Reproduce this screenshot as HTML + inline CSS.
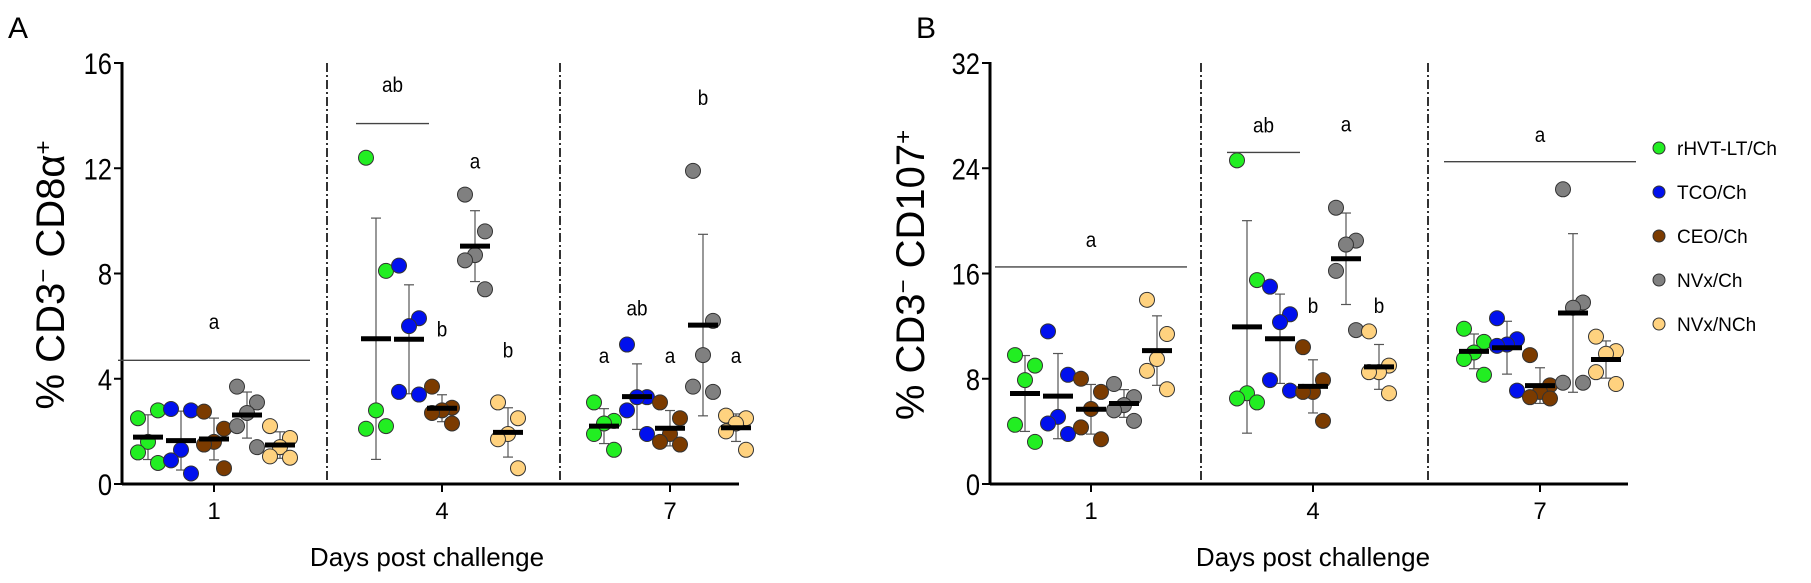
<!DOCTYPE html>
<html><head><meta charset="utf-8"><style>
html,body{margin:0;padding:0;background:#fff;width:1811px;height:583px;overflow:hidden}
svg text{font-family:"Liberation Sans",sans-serif}
</style></head><body>
<svg id="fig" width="1811" height="583" xmlns="http://www.w3.org/2000/svg"></svg>
<script>
const groups=["rHVT-LT/Ch","TCO/Ch","CEO/Ch","NVx/Ch","NVx/NCh"];
const days=["1","4","7"];
const yTicksA=[0,4,8,12,16];
const yTicksB=[0,8,16,24,32];
const dataA_day1=[[2.5,2.8,1.6,1.2,0.8],[2.85,2.8,1.3,0.9,0.4],[2.75,2.1,1.6,1.5,0.6],[3.7,3.1,2.7,2.2,1.4],[2.2,1.75,1.4,1.05,1.0]];
const dataA_day4=[[12.4,8.1,2.8,2.1,2.2],[8.3,6.3,6.0,3.5,3.4],[3.7,2.9,2.8,2.7,2.3],[11.0,9.6,8.7,8.5,7.4],[3.1,2.5,1.9,1.7,0.6]];
const dataA_day7=[[3.1,2.4,2.3,1.9,1.3],[5.3,3.3,3.3,2.8,1.9],[3.1,2.5,1.9,1.6,1.5],[11.9,6.2,4.9,3.7,3.5],[2.6,2.5,2.3,2.0,1.3]];
const dataB_day1=[[9.8,9.0,7.9,4.5,3.2],[11.6,8.3,5.1,4.6,3.8],[8.0,7.0,5.7,4.3,3.4],[7.6,6.6,6.0,5.6,4.8],[14.0,11.4,9.5,8.6,7.2]];
const dataB_day4=[[24.6,15.5,6.9,6.5,6.2],[15.0,12.9,12.3,7.9,7.1],[10.4,7.9,7.0,7.0,4.8],[21.0,18.5,18.2,16.2,11.7],[11.6,9.0,8.5,8.5,6.9]];
const dataB_day7=[[11.8,10.8,10.0,9.5,8.3],[12.6,11.0,10.6,10.5,7.1],[9.8,7.5,7.0,6.6,6.5],[22.4,13.8,13.4,7.7,7.7],[11.2,10.1,9.9,8.5,7.6]];
const lettersA=[[0,0,4,5.9,4.7,"a"],[1,0,1,14.9,13.7,"ab"],[1,3,3,12.0,null,"a"],[1,2,2,5.6,null,"b"],[1,4,4,4.8,null,"b"],[2,0,0,4.6,null,"a"],[2,1,1,6.4,null,"ab"],[2,2,2,4.6,null,"a"],[2,3,3,14.4,null,"b"],[2,4,4,4.6,null,"a"]];
const lettersB=[[0,0,4,18.0,16.5,"a"],[1,0,1,26.7,25.2,"ab"],[1,3,3,26.8,null,"a"],[1,2,2,13.0,null,"b"],[1,4,4,13.0,null,"b"],[2,0,4,26.0,24.5,"a"]];
const colors=["#22ee22","#0010ee","#7b3b00","#808080","#ffd27f"];
const jitter=[-10,10,0,-10,10];
const NS="http://www.w3.org/2000/svg";
const svg=document.getElementById("fig");
function el(tag,attrs,parent,text){const e=document.createElementNS(NS,tag);for(const k in attrs)e.setAttribute(k,attrs[k]);if(text!==undefined)e.textContent=text;(parent||svg).appendChild(e);return e;}
function mean(a){return a.reduce((s,v)=>s+v,0)/a.length;}
function sd(a){const m=mean(a);return Math.sqrt(a.reduce((s,v)=>s+(v-m)*(v-m),0)/(a.length-1));}

function panel(cfg){
  const g=el("g",{});
  
  
  const y=v=>cfg.y0-(v/cfg.ymax)*(cfg.y0-cfg.y1);
  const x=(d,gi)=>cfg.cats[d]+(gi-2)*33;
  const pl=el("text",{x:cfg.letterX,y:38,"font-size":30},g,cfg.letter);
  
  
  const ya=el("line",{x1:cfg.ax,y1:cfg.y1-1,x2:cfg.ax,y2:cfg.y0,stroke:"#000","stroke-width":3},g);
  
  
  const xa=el("line",{x1:cfg.ax,y1:cfg.y0,x2:cfg.right,y2:cfg.y0,stroke:"#000","stroke-width":3},g);
  
  
  cfg.ticks.forEach(t=>{
    el("line",{x1:cfg.ax-8,y1:y(t),x2:cfg.ax,y2:y(t),stroke:"#000","stroke-width":2},g);
    const tl=el("text",{x:0,y:0,"font-size":30,"text-anchor":"end",transform:`translate(${cfg.ax-10},${y(t)+11}) scale(0.85,1)`},g,String(t));
    
    
  });
  days.forEach((d,i)=>{
    el("line",{x1:cfg.cats[i],y1:cfg.y0,x2:cfg.cats[i],y2:cfg.y0+8,stroke:"#000","stroke-width":2},g);
    const tl=el("text",{x:cfg.cats[i],y:cfg.y0+35,"font-size":24,"text-anchor":"middle"},g,d);
    
    
  });
  cfg.dividers.forEach(dx=>{
    const dl=el("line",{x1:dx,y1:cfg.y1,x2:dx,y2:cfg.y0,stroke:"#000","stroke-width":1.6,"stroke-dasharray":"9,3,2,3"},g);
    
    
  });
  const xt=el("text",{x:cfg.xTitleX,y:566,"font-size":26,"text-anchor":"middle"},g,"Days post challenge");
  
  
  const yt=el("text",{x:0,y:0,"font-size":40,"text-anchor":"middle",transform:`translate(${cfg.yTitleX},${cfg.yTitleY}) rotate(-90)`},g);
  
  
  yt.innerHTML=cfg.yTitle;
  cfg.data.forEach((day,d)=>{
    day.forEach((pts,gi)=>{
      const cx=x(d,gi),m=mean(pts),s=sd(pts);
      const eb=el("g",{},g);
      
      
      el("line",{x1:cx,y1:y(Math.max(0,m-s)),x2:cx,y2:y(m+s),stroke:"#555","stroke-width":1.2},eb);
      el("line",{x1:cx-5,y1:y(m+s),x2:cx+5,y2:y(m+s),stroke:"#555","stroke-width":1.2},eb);
      el("line",{x1:cx-5,y1:y(Math.max(0,m-s)),x2:cx+5,y2:y(Math.max(0,m-s)),stroke:"#555","stroke-width":1.2},eb);
      pts.forEach((v,k)=>{
        const c=el("circle",{cx:cx+jitter[k],cy:y(v),r:7.5,fill:colors[gi],stroke:"#333","stroke-width":1},g);
        
        
      });
      const mb=el("line",{x1:cx-15,y1:y(m),x2:cx+15,y2:y(m),stroke:"#000","stroke-width":5},g);
      
      
    });
  });
  cfg.letters.forEach(L=>{
    const [d,g0,g1,ly,lineY,txt]=L;
    const xa0=x(d,g0),xa1=x(d,g1);
    if(lineY!==null){
      const ext=(g1-g0===4)?30:20;
      const sl=el("line",{x1:xa0-ext,y1:y(lineY),x2:xa1+ext,y2:y(lineY),stroke:"#444","stroke-width":1.4},g);
      
      
    }
    const st=el("text",{x:0,y:0,"font-size":21,"text-anchor":"middle",transform:`translate(${(xa0+xa1)/2},${y(ly)}) scale(0.9,1)`},g,txt);
    
    
  });
}
panel({name:"panel-a",letter:"A",letterX:8,ax:122,right:739,y0:484,y1:63,ymax:16,ticks:yTicksA,cats:[214,442,670],dividers:[327,560],
  data:[dataA_day1,dataA_day4,dataA_day7],letters:lettersA,xTitleX:427,yTitleX:64,yTitleY:275,
  yTitle:'% CD3<tspan baseline-shift="super" font-size="24">−</tspan> CD8α<tspan baseline-shift="super" font-size="24">+</tspan>'});
panel({name:"panel-b",letter:"B",letterX:916,ax:990,right:1628,y0:484,y1:63,ymax:32,ticks:yTicksB,cats:[1091,1313,1540],dividers:[1201,1428],
  data:[dataB_day1,dataB_day4,dataB_day7],letters:lettersB,xTitleX:1313,yTitleX:924,yTitleY:275,
  yTitle:'% CD3<tspan baseline-shift="super" font-size="24">−</tspan> CD107<tspan baseline-shift="super" font-size="24">+</tspan>'});
const lg=el("g",{});


groups.forEach((name,i)=>{
  const e=el("g",{},lg);
  
  
  el("circle",{cx:1659,cy:148+i*44,r:6,fill:colors[i],stroke:"#333","stroke-width":1},e);
  el("text",{x:1677,y:155+i*44,"font-size":19},e,name);
});
</script>
</body></html>
